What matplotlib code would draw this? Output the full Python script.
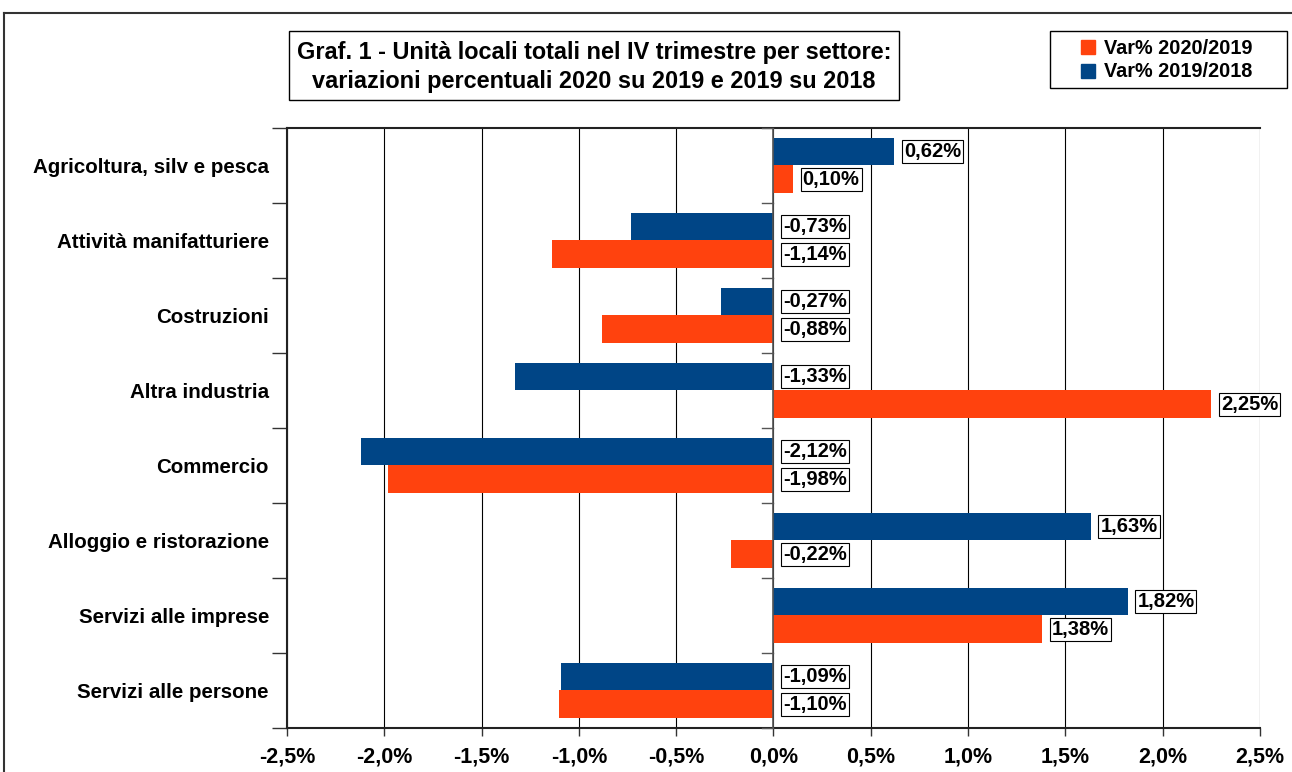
import matplotlib
matplotlib.use('Agg')
import matplotlib.pyplot as plt
from matplotlib.lines import Line2D
from matplotlib.patches import Rectangle
import numpy as np

plt.rcParams['font.family'] = ['Liberation Sans', 'DejaVu Sans']

settori = ['Agricoltura, silv e pesca', 'Attività manifatturiere', 'Costruzioni',
           'Altra industria', 'Commercio', 'Alloggio e ristorazione',
           'Servizi alle imprese', 'Servizi alle persone']
var_2019_2018 = [0.62, -0.73, -0.27, -1.33, -2.12, 1.63, 1.82, -1.09]
var_2020_2019 = [0.10, -1.14, -0.88, 2.25, -1.98, -0.22, 1.38, -1.10]
xticks = [-2.5, -2.0, -1.5, -1.0, -0.5, 0.0, 0.5, 1.0, 1.5, 2.0, 2.5]

blu = '#004586'
arancio = '#ff420e'

W, H = 1292, 772
fig = plt.figure(figsize=(W / 100, H / 100), dpi=100)
ax = fig.add_axes([0.2221, 0.057, 0.7531, 0.7772])

n = len(settori)
y = np.arange(n)
h = 0.373
ax.barh(y - h / 2, var_2019_2018, height=h, color=blu, zorder=3)
ax.barh(y + h / 2, var_2020_2019, height=h, color=arancio, zorder=3)

box = dict(boxstyle='square,pad=0.1', fc='white', ec='black', lw=0.8)
for serie, off in ((var_2019_2018, -h / 2), (var_2020_2019, h / 2)):
    for i, v in enumerate(serie):
        xpos = max(v, 0) + 0.05
        ax.text(xpos, i + off, ('%.2f%%' % v).replace('.', ','), ha='left', va='center',
                fontsize=14.5, fontweight='bold', bbox=box, zorder=5)

ax.set_xlim(-2.5, 2.5)
ax.set_ylim(n - 0.5, -0.5)
ax.set_xticks(xticks)
ax.set_xticklabels([('%.1f%%' % t).replace('.', ',') for t in xticks],
                   fontsize=15.5, fontweight='bold')
ax.set_yticks(np.arange(n + 1) - 0.5)
ax.set_yticklabels([])
ax.set_yticks(y, minor=True)
ax.set_yticklabels(settori, minor=True, fontsize=14.8, fontweight='bold')
ax.tick_params(axis='y', which='minor', length=0, pad=13)
ax.tick_params(axis='y', which='major', length=11, width=1, color='#333333')
ax.tick_params(axis='x', length=6, width=1, color='#333333', pad=7)
ax.xaxis.grid(True, color='black', lw=0.8, zorder=0)
ax.axvline(0, color='#555555', lw=1.2, zorder=4)
for b in np.arange(n + 1) - 0.5:
    ax.plot([-0.06, 0], [b, b], color='#555555', lw=1, zorder=4, clip_on=False)
for s in ('left', 'bottom', 'top'):
    ax.spines[s].set_color('#222222')
    ax.spines[s].set_linewidth(1.5)
ax.spines['right'].set_visible(False)


def riquadro(x0, y0, x1, y1):
    # rettangolo in pixel (origine in alto a sinistra)
    fig.add_artist(Rectangle((x0 / W, 1 - y1 / H), (x1 - x0) / W, (y1 - y0) / H,
                             transform=fig.transFigure, fc='white', ec='black', lw=1))


# titolo in riquadro
riquadro(289, 31, 899, 100)
fig.text(594 / W, 1 - 67 / H, 'Graf. 1 - Unità locali totali nel IV trimestre per settore:\n'
         'variazioni percentuali 2020 su 2019 e 2019 su 2018',
         ha='center', va='center', fontsize=16.9, fontweight='bold', linespacing=1.3)

# legenda
riquadro(1050, 31, 1287, 88)
handles = [Line2D([], [], marker='s', ls='', color=arancio, markersize=9.5),
           Line2D([], [], marker='s', ls='', color=blu, markersize=9.5)]
leg = fig.legend(handles, ['Var% 2020/2019', 'Var% 2019/2018'],
                 loc='center', bbox_to_anchor=(1167 / W, 1 - 60 / H),
                 prop=dict(size=14.3, weight='bold'), frameon=False,
                 handlelength=0.7, handletextpad=0.45, borderpad=0, labelspacing=0.25)

# cornice esterna
fig.add_artist(Line2D([0.003, 1], [1 - 13 / H, 1 - 13 / H], color='#333333', lw=1.5))
fig.add_artist(Line2D([0.003, 0.003], [0, 1 - 13 / H], color='#333333', lw=1.5))

fig.savefig('out.png', dpi=100)
